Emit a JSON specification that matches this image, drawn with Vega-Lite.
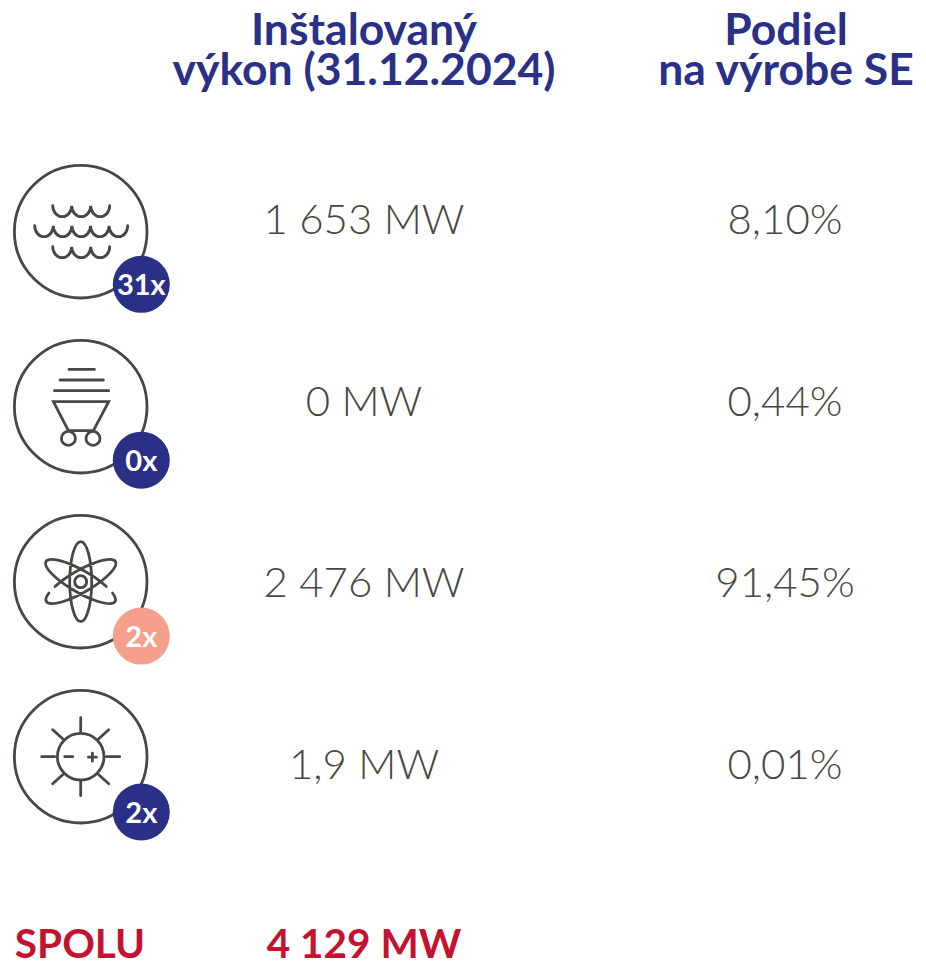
{
"$schema":"https://vega.github.io/schema/vega-lite/v6.json",
"autosize":{"type":"fit","contains":"padding"},"width":926,"height":962,"padding":0,
"background":"white","view":{"stroke":null},
"datasets":{
"zdroje":[
{"zdroj":"voda","riadok":1,"vykon":"1 653 MW","podiel":"8,10%","pocet":"31x"},
{"zdroj":"uhlie","riadok":2,"vykon":"0 MW","podiel":"0,44%","pocet":"0x"},
{"zdroj":"jadro","riadok":3,"vykon":"2 476 MW","podiel":"91,45%","pocet":"2x"},
{"zdroj":"slnko","riadok":4,"vykon":"1,9 MW","podiel":"0,01%","pocet":"2x"}],
"stlpce":[
{"stlpec":"výkon","riadok":1,"text":"1 653 MW"},{"stlpec":"podiel","riadok":1,"text":"8,10%"},
{"stlpec":"výkon","riadok":2,"text":"0 MW"},{"stlpec":"podiel","riadok":2,"text":"0,44%"},
{"stlpec":"výkon","riadok":3,"text":"2 476 MW"},{"stlpec":"podiel","riadok":3,"text":"91,45%"},
{"stlpec":"výkon","riadok":4,"text":"1,9 MW"},{"stlpec":"podiel","riadok":4,"text":"0,01%"}],
"hlavicka":[
{"stlpec":"výkon","riadok":1,"text":"Inštalovaný"},{"stlpec":"výkon","riadok":2,"text":"výkon (31.12.2024)"},
{"stlpec":"podiel","riadok":1,"text":"Podiel"},{"stlpec":"podiel","riadok":2,"text":"na výrobe SE"}],
"spolu":[{"stlpec":"popis","text":"SPOLU"},{"stlpec":"výkon","text":"4 129 MW"}]
},
"layer":[
{"data":{"name":"hlavicka"},
 "mark":{"type":"text","font":"Lato","fontWeight":"bold","fontSize":44.5,"color":"#2b3087","baseline":"middle","align":"center"},
 "encoding":{
  "x":{"field":"stlpec","type":"nominal","axis":null,"scale":{"type":"point","domain":["výkon","podiel"],"range":[364,786],"padding":0}},
  "y":{"field":"riadok","type":"quantitative","axis":null,"scale":{"domain":[1,2],"range":[32,72],"zero":false,"nice":false}},
  "text":{"field":"text"}}},
{"data":{"name":"stlpce"},
 "mark":{"type":"text","font":"Lato","fontWeight":300,"fontSize":42,"color":"#4a4742","baseline":"middle","align":"center"},
 "encoding":{
  "x":{"field":"stlpec","type":"nominal","axis":null,"scale":{"type":"point","domain":["výkon","podiel"],"range":[364,785],"padding":0}},
  "y":{"field":"riadok","type":"quantitative","axis":null,"scale":{"domain":[1,4],"range":[221,766],"zero":false,"nice":false}},
  "text":{"field":"text"}}},
{"data":{"name":"spolu"},
 "mark":{"type":"text","font":"Lato","fontWeight":"bold","fontSize":40.5,"color":"#c4122f","baseline":"middle","align":"center"},
 "encoding":{
  "x":{"field":"stlpec","type":"nominal","axis":null,"scale":{"type":"point","domain":["popis","výkon"],"range":[80,364],"padding":0}},
  "y":{"field":"stlpec","type":"nominal","axis":null,"scale":{"type":"point","domain":["popis","výkon"],"range":[946,946],"padding":0}},
  "text":{"field":"text"}}},
{"data":{"name":"zdroje"},
 "mark":{"type":"point","shape":"circle","filled":false,"size":17583,"stroke":"#4a4742","strokeWidth":2.8,"opacity":1},
 "encoding":{
  "x":{"datum":"ikona","type":"nominal","axis":null,"scale":{"type":"point","domain":["ikona","odznak"],"range":[80.7,141.3],"padding":0}},
  "y":{"field":"riadok","type":"quantitative","axis":null,"scale":{"domain":[1,4],"range":[231.7,756.7],"zero":false,"nice":false}}}},
{"data":{"name":"zdroje"},
 "mark":{"type":"point","filled":false,"size":4,"stroke":"#4a4742","strokeWidth":2.8,"opacity":1,"strokeCap":"round"},
 "encoding":{
  "x":{"datum":"ikona","type":"nominal","axis":null,"scale":{"type":"point","domain":["ikona","odznak"],"range":[80.7,141.3],"padding":0}},
  "y":{"field":"riadok","type":"quantitative","axis":null,"scale":{"domain":[1,4],"range":[231.7,756.7],"zero":false,"nice":false}},
  "shape":{"field":"zdroj","type":"nominal","legend":null,"scale":{"domain":["voda","uhlie","jadro","slnko"],"range":[
"M-28,-26A9.5,11 0 0 0 -9,-26A9.5,11 0 0 0 10,-26A9.5,11 0 0 0 29,-26M-46,-6A9.3,11 0 0 0 -27.4,-6A9.3,11 0 0 0 -8.8,-6A9.3,11 0 0 0 9.8,-6A9.3,11 0 0 0 28.4,-6A9.3,11 0 0 0 47,-6M-28,15A9.5,11 0 0 0 -9,15A9.5,11 0 0 0 10,15A9.5,11 0 0 0 29,15",
"M-11.7,-37.3L13.7,-37.3M-20.7,-26.7L22.7,-26.7M-26.3,-16L28,-16M-12.3,24L-27.3,-5L28,-5L12.7,24ZM-19.3,31.7A7,7 0 1 0 -5.3,31.7A7,7 0 1 0 -19.3,31.7M5.3,31.7A7,7 0 1 0 19.3,31.7A7,7 0 1 0 5.3,31.7",
"M-6,0A6,6 0 1 0 6,0A6,6 0 1 0 -6,0M-11,0A11,40 0 1 0 11,0A11,40 0 1 0 -11,0M31.8,11.3A40,11 30 1 1 25.7,4.8M-31.8,11.3A40,11 -30 1 0 -25.7,4.8",
"M-23.3,0A23.3,23.3 0 1 0 23.3,0A23.3,23.3 0 1 0 -23.3,0M0,-39L0,-25M0,25L0,39M-39,0L-26,0M26,0L39,0M-28,-27L-18,-18M28,-27L18,-18M-28,27L-18,18M28,27L18,18M-16,0L-8,0M7.7,0.5L15.7,0.5M11.7,-3.5L11.7,4.5"
]}}}},
{"data":{"name":"zdroje"},
 "mark":{"type":"point","shape":"circle","filled":true,"size":3249,"opacity":1},
 "encoding":{
  "x":{"datum":"odznak","type":"nominal","axis":null,"scale":{"type":"point","domain":["ikona","odznak"],"range":[80.7,141.3],"padding":0}},
  "y":{"field":"riadok","type":"quantitative","axis":null,"scale":{"domain":[1,4],"range":[284.3,812],"zero":false,"nice":false}},
  "color":{"field":"zdroj","type":"nominal","legend":null,"scale":{"domain":["voda","uhlie","jadro","slnko"],"range":["#2b3087","#2b3087","#f4a08c","#2b3087"]}}}},
{"data":{"name":"zdroje"},
 "mark":{"type":"text","font":"Lato","fontWeight":"bold","fontSize":29,"color":"white","baseline":"middle","align":"center"},
 "encoding":{
  "x":{"datum":"odznak","type":"nominal","axis":null,"scale":{"type":"point","domain":["ikona","odznak"],"range":[80.7,141.3],"padding":0}},
  "y":{"field":"riadok","type":"quantitative","axis":null,"scale":{"domain":[1,4],"range":[286.3,814],"zero":false,"nice":false}},
  "text":{"field":"pocet"}}}
],
"resolve":{"scale":{"x":"independent","y":"independent","color":"independent","shape":"independent"}}
}
